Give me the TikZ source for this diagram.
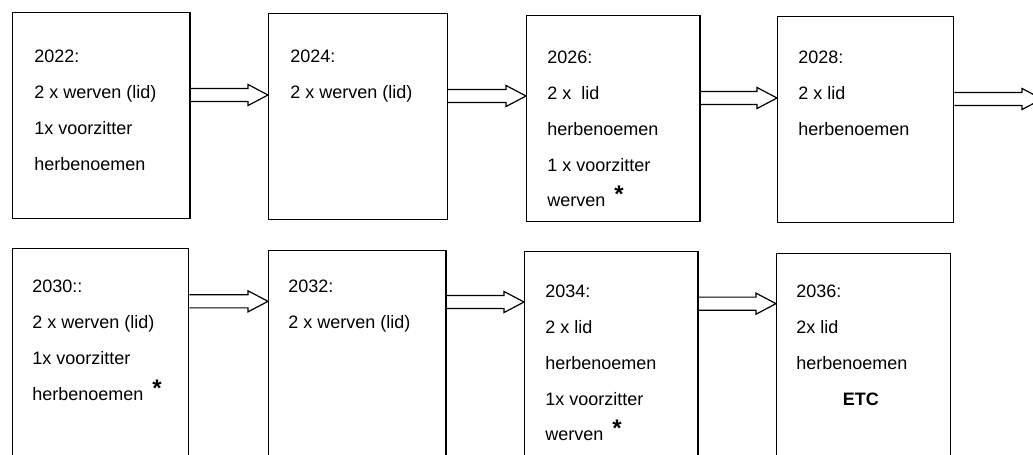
\documentclass[tikz,border=0pt]{standalone}
\usepackage{fontspec}
\setmainfont{Liberation Sans}
\usetikzlibrary{calc}

\newcommand{\ster}{\hspace{3pt}\raisebox{3pt}{\fontsize{18}{18}\selectfont\bfseries *}}

\tikzset{
  yearbox/.style={draw, line width=1pt, anchor=north west, inner sep=0pt,
    minimum width=133pt, minimum height=154.5pt},
  tallbox/.style={yearbox, minimum height=175pt},
  plan/.style={anchor=north west, inner sep=0pt, align=left,
    font=\fontsize{13.5}{26.8}\selectfont},
  blockarrow/.style={draw, line width=0.9pt, to path={
    let \p1=(\tikztostart), \p2=(\tikztotarget) in
    (\x1,\y1+4.9pt) -- (\x2-15pt,\y1+4.9pt) -- (\x2-15pt,\y1+7.9pt) -- (\x2,\y1)
    -- (\x2-15pt,\y1-7.9pt) -- (\x2-15pt,\y1-4.9pt) -- (\x1,\y1-4.9pt)}}
}

\begin{document}
\begin{tikzpicture}[x=0.75pt, y=-0.75pt]
    \useasboundingbox (0,0) rectangle (1033,454);
    \clip (0,0) rectangle (1033,454);

    % 2022
    \node[yearbox] (b1) at (12,12) {};
    \node[plan] (t1) at (34,50) {2022:\\2 x werven (lid)\\1x voorzitter\\herbenoemen};

    % 2024
    \node[yearbox, minimum width=134pt] (b2) at (268,13) {};
    \node[plan] (t2) at (290,50) {2024:\\2 x werven (lid)};

    % 2026
    \node[yearbox, minimum width=130pt] (b3) at (526,15) {};
    \node[plan] (t3) at (547,51) {2026:\\2 x\ \ lid\\herbenoemen\\1 x voorzitter\\werven \ster};

    % 2028
    \node[yearbox, minimum width=132pt] (b4) at (777,16) {};
    \node[plan] (t4) at (798,51) {2028:\\2 x lid\\herbenoemen};
    \coordinate (next) at (1042,99);

    % 2030
    \node[tallbox, minimum width=132pt] (b5) at (12,248) {};
    \node[plan] (t5) at (32,280) {2030::\\2 x werven (lid)\\1x voorzitter\\herbenoemen \ster};

    % 2032
    \node[tallbox] (b6) at (268,250) {};
    \node[plan] (t6) at (288,280) {2032:\\2 x werven (lid)};

    % 2034
    \node[tallbox, minimum width=130pt] (b7) at (524,251) {};
    \node[plan] (t7) at (545,285) {2034:\\2 x lid\\herbenoemen\\1x voorzitter\\werven \ster};

    % 2036
    \node[tallbox, minimum width=130.5pt] (b8) at (776,253) {};
    \node[plan] (t8) at (796,285) {2036:\\2x lid\\herbenoemen\\\hspace*{35pt}\textbf{ETC}};

    % Arrows
    \draw[blockarrow] ([yshift=-62.25pt]b1.north east) to (b2.west);
    \draw[blockarrow] ([yshift=-62.25pt]b2.north east) to (b3.west);
    \draw[blockarrow] ([yshift=-62.25pt]b3.north east) to (b4.west);
    \draw[blockarrow] ([yshift=-62.25pt]b4.north east) to (next);
    \draw[blockarrow] ([yshift=-40pt]b5.north east) to (b6.west);
    \draw[blockarrow] ([yshift=-39pt]b6.north east) to (b7.west);
    \draw[blockarrow] ([yshift=-39.5pt]b7.north east) to (b8.west);

\end{tikzpicture}
\end{document}
